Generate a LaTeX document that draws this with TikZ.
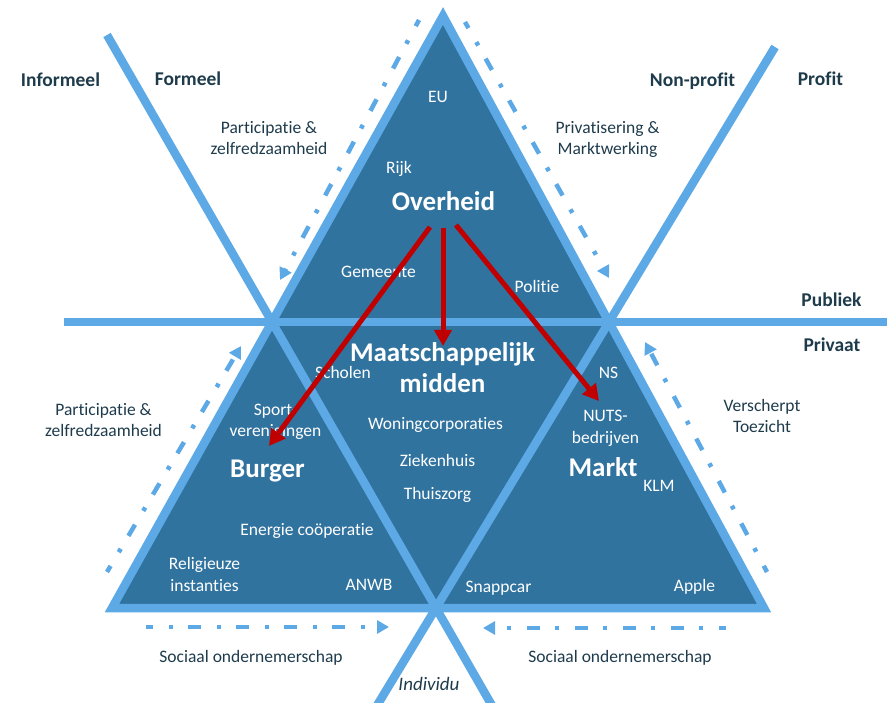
\documentclass[tikz,border=0pt]{standalone}
\usepackage{fontspec}
\setmainfont{Carlito}[Ligatures={TeX,NoCommon}]
\usepackage{xcolor}
\definecolor{TriFill}{HTML}{31739F}
\definecolor{TriLine}{HTML}{5CA9E6}
\definecolor{LabelInk}{HTML}{1E3B4C}
\definecolor{ShiftRed}{HTML}{C00000}
\usepackage{tikz}
\usetikzlibrary{arrows.meta,calc}

\begin{document}
\begin{tikzpicture}[
  x=1pt, y=-1pt,
  lineband/.style={draw=TriLine, line width=8.5pt},
  trendarrow/.style={draw=TriLine, line width=4.5pt,
                     dash pattern=on 13pt off 16pt on 4pt off 15pt, dash phase=6pt,
                     -{Triangle[length=12pt,width=13pt]}},
  redarrow/.style={draw=ShiftRed, line width=5pt,
                   -{Triangle[length=16pt,width=17pt]}},
  note/.style={font=\fontsize{17.5}{21.5}\selectfont, text=LabelInk,
               align=center, inner sep=0pt, anchor=base},
  wnote/.style={note, text=white},
  actor/.style={note, text=white, font=\fontsize{27}{32}\selectfont\bfseries},
  side/.style={note, font=\fontsize{19.5}{23}\selectfont\bfseries},
]
\useasboundingbox (0,0) rectangle (887,703);

\coordinate (top) at (443,16);
\coordinate (bl) at (112,608);
\coordinate (br) at (764,608);
\coordinate (lx) at (272,322);
\coordinate (rx) at (609,322);
\coordinate (bx) at (436,608);
\coordinate (h-west) at (64,322);
\coordinate (h-east) at (887,322);
\coordinate (l-top) at (107,35);
\coordinate (l-end) at (494.5,710);
\coordinate (r-top) at (775,47);
\coordinate (r-end) at (374.3,710);

\fill[TriFill] (top) -- (bl) -- (br) -- cycle;
\draw[lineband, line join=miter] (top) -- (bl) -- (br) -- cycle;
\draw[lineband] (h-west) -- (h-east);
\draw[lineband] (l-top) -- (lx) -- (bx) -- (l-end);
\draw[lineband] (r-top) -- (rx) -- (bx) -- (r-end);

% labels outside the triangle
\node[side] (informeel) at (60.5,87) {Informeel};
\node[side] (formeel) at (188,85.5) {Formeel};
\node[side] (nonprofit) at (692.5,87) {Non-profit};
\node[side] (profit) at (820.5,85.5) {Profit};
\node[side] (publiek) at (831.5,306.5) {Publiek};
\node[side] (privaat) at (832,352) {Privaat};
\node[note] (part-top) at (269,155) {Participatie \&\\zelfredzaamheid};
\node[note] (privat) at (607.5,155) {Privatisering \&\\Marktwerking};
\node[note] (part-low) at (103.5,437) {Participatie \&\\zelfredzaamheid};
\node[note] (toezicht) at (762,433) {Verscherpt\\Toezicht};
\node[note] (social-l) at (251,662) {Sociaal ondernemerschap};
\node[note] (social-r) at (620,662) {Sociaal ondernemerschap};
\node[note, font=\fontsize{19}{23}\selectfont\itshape] (individu) at (429,690) {Individu};

% labels inside the triangle
\node[wnote] (eu) at (438,103) {EU};
\node[wnote] (rijk) at (399,174) {Rijk};
\node[actor] (overheid) at (443.5,211) {Overheid};
\node[wnote] (gemeente) at (378.5,278) {Gemeente};
\node[wnote] (politie) at (537,293) {Politie};
\node[actor] (midden) at (442.5,393) {Maatschappelijk\\midden};
\node[wnote] (scholen) at (343,379) {Scholen};
\node[wnote] (sport) at (275.5,437) {Sport-\\verenigingen};
\node[wnote] (woning) at (435.5,430) {Woningcorporaties};
\node[wnote] (zieken) at (437.5,467) {Ziekenhuis};
\node[wnote] (thuis) at (437.5,499) {Thuiszorg};
\node[actor] (burger) at (267.5,477) {Burger};
\node[wnote] (energie) at (307,535) {Energie coöperatie};
\node[wnote] (religie) at (204.5,591) {Religieuze\\instanties};
\node[wnote] (anwb) at (369,590) {ANWB};
\node[wnote] (ns) at (608.5,379) {NS};
\node[wnote] (nuts) at (605.5,443) {NUTS-\\bedrijven};
\node[actor] (markt) at (603,476) {Markt};
\node[wnote] (klm) at (659,492) {KLM};
\node[wnote] (snappcar) at (498.5,592) {Snappcar};
\node[wnote] (apple) at (694.5,591) {Apple};

% shifts
\coordinate (ov-l) at (430,227);
\coordinate (ov-m) at (443,228);
\coordinate (ov-r) at (456,225);
\coordinate (to-burger) at (269,446);
\coordinate (to-midden) at (443,346);
\coordinate (to-markt) at (599,401);
\draw[redarrow] (ov-l) -- (to-burger);
\draw[redarrow] (ov-m) -- (to-midden);
\draw[redarrow] (ov-r) -- (to-markt);

\coordinate (pz-a) at (419,20);  \coordinate (pz-b) at (280,280);
\coordinate (pm-a) at (465,22);  \coordinate (pm-b) at (609,278);
\coordinate (pl-a) at (107,572); \coordinate (pl-b) at (241,346);
\coordinate (vt-a) at (767,572); \coordinate (vt-b) at (645,342);
\coordinate (so-a) at (146,627); \coordinate (so-b) at (389,627);
\coordinate (sr-a) at (726,628); \coordinate (sr-b) at (483,628);
\draw[trendarrow] (pz-a) -- (pz-b);
\draw[trendarrow] (pm-a) -- (pm-b);
\draw[trendarrow] (pl-a) -- (pl-b);
\draw[trendarrow] (vt-a) -- (vt-b);
\draw[trendarrow] (so-a) -- (so-b);
\draw[trendarrow] (sr-a) -- (sr-b);
\end{tikzpicture}
\end{document}
